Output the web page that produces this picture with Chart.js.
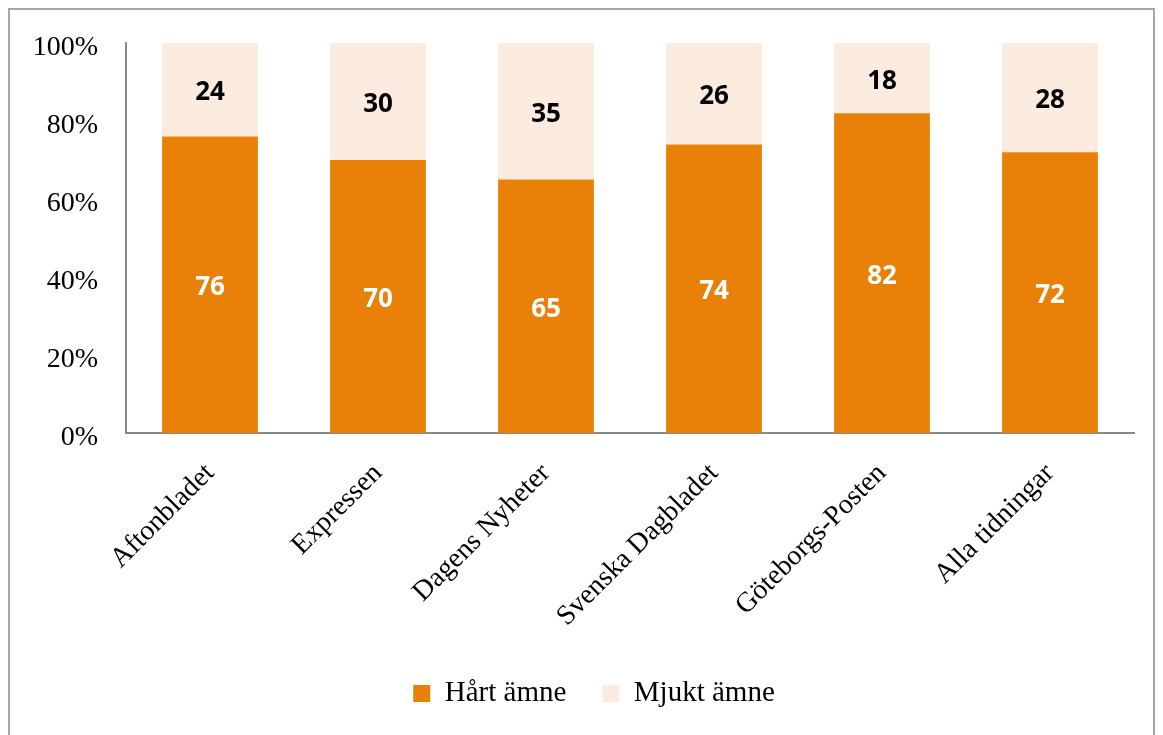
<!DOCTYPE html>
<html>
<head>
<meta charset="utf-8">
<script src="https://cdn.jsdelivr.net/npm/chart.js@4"></script>
<style>
  body { margin: 0; background: #fff; }
</style>
</head>
<body>
<canvas id="myChart" width="1163" height="735"></canvas>
<script>
const tidningar = ['Aftonbladet', 'Expressen', 'Dagens Nyheter', 'Svenska Dagbladet', 'Göteborgs-Posten', 'Alla tidningar'];
const hart = [76, 70, 65, 74, 82, 72];
const mjukt = [24, 30, 35, 26, 18, 28];
const yTicks = [0, 20, 40, 60, 80, 100];

// frame round the whole chart, and nudge the legend a bit right
const frame = {
  id: 'frame',
  afterLayout(chart) {
    chart.legend.left += 54;
  },
  beforeDraw(chart) {
    const c = chart.ctx;
    c.save();
    c.strokeStyle = '#a6a6a6';
    c.lineWidth = 2;
    c.strokeRect(9, 9, 1145, 740);
    c.restore();
  }
};

// numbers in the middle of every bar piece
const barLabels = {
  id: 'barLabels',
  afterDatasetsDraw(chart) {
    const c = chart.ctx;
    c.save();
    c.font = 'bold 26px "Open Sans"';
    c.textAlign = 'center';
    c.textBaseline = 'middle';
    chart.data.datasets.forEach((ds, i) => {
      const meta = chart.getDatasetMeta(i);
      meta.data.forEach((bar, j) => {
        c.fillStyle = i == 0 ? '#ffffff' : '#000000';
        c.fillText(ds.data[j], bar.x, (bar.y + bar.base) / 2 + 3);
      });
    });
    c.restore();
  }
};

const data = {
  labels: tidningar,
  datasets: [{
    label: 'Hårt ämne',
    data: hart,
    backgroundColor: '#e98008',
    barPercentage: 0.57,
    categoryPercentage: 1
  }, {
    label: 'Mjukt ämne',
    data: mjukt,
    backgroundColor: '#fcebdf',
    barPercentage: 0.57,
    categoryPercentage: 1
  }]
};

const config = {
  type: 'bar',
  data: data,
  options: {
    responsive: false,
    animation: false,
    layout: { padding: { top: 43, right: 29, left: 0, bottom: 17 } },
    plugins: {
      legend: {
        position: 'bottom',
        labels: {
          color: '#000',
          font: { family: 'Liberation Serif', size: 29 },
          boxWidth: 17,
          boxHeight: 17,
          padding: 36
        }
      },
      tooltip: { enabled: false }
    },
    scales: {
      x: {
        stacked: true,
        grid: { display: false },
        border: { color: '#888', width: 2 },
        ticks: {
          color: '#000',
          font: { family: 'Liberation Serif', size: 28 },
          minRotation: 45,
          maxRotation: 45,
          padding: 16
        },
        afterFit(scale) { scale.height = 210; }
      },
      y: {
        stacked: true,
        min: 0,
        max: 100,
        afterBuildTicks(scale) { scale.ticks = yTicks.map(v => ({ value: v })); },
        grid: { display: false },
        border: { color: '#888', width: 2 },
        ticks: {
          color: '#000',
          font: { family: 'Liberation Serif', size: 28 },
          padding: 20,
          labelOffset: 5,
          callback: v => v + '%'
        },
        afterFit(scale) { scale.width = 126; }
      }
    }
  },
  plugins: [frame, barLabels]
};

const myChart = new Chart(document.getElementById('myChart'), config);
</script>
</body>
</html>
